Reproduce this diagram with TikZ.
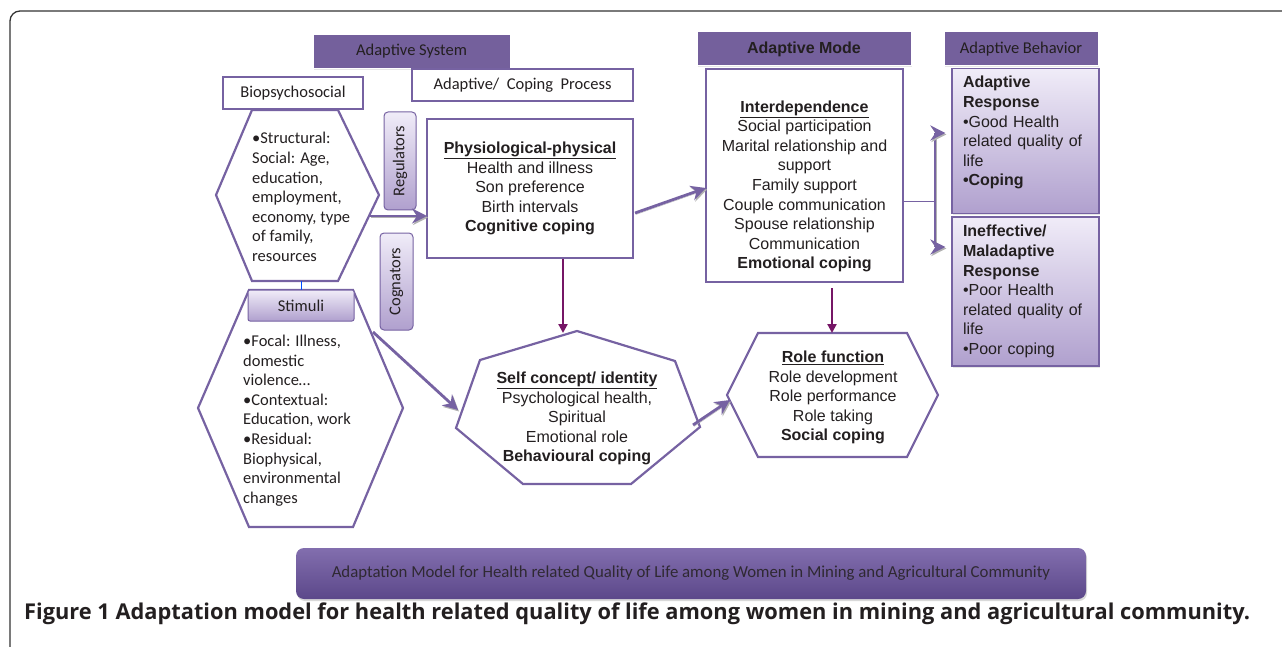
\documentclass[tikz,border=0pt]{standalone}
\usepackage{fontspec}
\setmainfont{Liberation Sans}
\newfontfamily\calfont{Carlito}
\newfontfamily\capfont{Open Sans}
\usetikzlibrary{arrows.meta,shadows}

\definecolor{roy}{RGB}{118,98,162}
\definecolor{hdrfill}{RGB}{116,96,156}
\definecolor{plum}{RGB}{118,22,102}
\definecolor{lavtop}{RGB}{240,236,248}
\definecolor{lavbot}{RGB}{176,160,206}
\definecolor{ink}{RGB}{35,31,32}
\definecolor{bantop}{RGB}{130,110,174}
\definecolor{banbot}{RGB}{92,72,138}

\tikzstyle{hdr}=[fill=hdrfill,draw=white,line width=1pt,minimum height=34pt,inner sep=0pt,text=ink,
  drop shadow={opacity=0.2,shadow xshift=1pt,shadow yshift=-1.5pt}]
\tikzstyle{wbox}=[draw=roy,line width=2.2pt,fill=white,inner sep=0pt,text=ink,align=center,
  font=\fontsize{16}{19.6}\selectfont]
\tikzstyle{lav}=[draw=roy,line width=1pt,top color=lavtop,bottom color=lavbot,rounded corners=4pt,
  inner sep=0pt,text=ink,font=\calfont\fontsize{16.5}{19.6}\selectfont]
\tikzstyle{resp}=[draw=roy,line width=1.2pt,top color=lavtop,bottom color=lavbot,inner xsep=11pt,
  inner ysep=0pt,text width=125pt,align=left,text=ink,font=\fontsize{16}{19.6}\selectfont,
  drop shadow={opacity=0.2,shadow xshift=1pt,shadow yshift=-1.5pt}]
\tikzstyle{poly}=[draw=roy,line width=2.2pt]
\tikzstyle{txt}=[inner sep=0pt,text=ink,align=center,font=\fontsize{16}{19.6}\selectfont]
\tikzstyle{caltxt}=[inner sep=0pt,text=ink,align=left,font=\calfont\fontsize{16.5}{19.6}\selectfont]
\tikzstyle{flowarrow}=[draw=roy,line width=2.8pt,-{Stealth[length=15pt,width=15pt,inset=5pt]},
  preaction={draw=black!30,transform canvas={xshift=1pt,yshift=-1.5pt}}]
\tikzstyle{downarrow}=[draw=plum,line width=2.2pt,-{Triangle[length=9pt,width=9pt]}]

\begin{document}
\begin{tikzpicture}[x=1pt,y=-1pt]
\useasboundingbox (0,0) rectangle (1282,647);
\draw[black!80,line width=1.3pt,rounded corners=10pt] (10,648) -- (10,11) -- (1283,11);

% shapes
\draw[poly] (252,110) -- (338,110) -- (379,195) -- (338,281) -- (252,281) -- (216,195) -- cycle;
\draw[poly] (249,290) -- (353,290) -- (403,408) -- (353,527) -- (249,527) -- (198,408) -- cycle;
\draw[poly] (577,331) -- (675,361) -- (700,427) -- (631,484) -- (523,484) -- (456,428) -- (480,360) -- cycle;
\draw[poly] (758,333) -- (907,333) -- (938,395) -- (907,457) -- (758,457) -- (727,395) -- cycle;

% headers and boxes
\node[hdr,minimum width=197pt,font=\calfont\fontsize{16.5}{19}\selectfont] (sys) at (411.5,51.5) {Adaptive System};
\node[wbox,minimum width=221pt,minimum height=32pt,font=\calfont\fontsize{16.5}{19}\selectfont] (proc) at (522.5,85) {Adaptive/\ \ Coping\ \ Process};
\node[wbox,minimum width=140pt,minimum height=32pt,font=\calfont\fontsize{16.5}{19}\selectfont] (bio) at (293,93) {Biopsychosocial};
\node[hdr,minimum width=214pt,font=\bfseries\fontsize{16}{19}\selectfont] (mode) at (804,49) {Adaptive Mode};
\node[hdr,minimum width=154pt,font=\calfont\fontsize{16.5}{19}\selectfont] (behav) at (1021,49) {Adaptive Behavior};

\node[wbox,minimum width=206pt,minimum height=139pt] (physio) at (530,188.5)
  {\textbf{\underline{Physiological-physical}}\\Health and illness\\Son preference\\Birth intervals\\\textbf{Cognitive coping}};
\node[wbox,minimum width=197pt,minimum height=213pt] (interd) at (804.5,175.5)
  {\strut\\\textbf{\underline{Interdependence}}\\Social participation\\Marital relationship and\\support\\Family support\\Couple communication\\Spouse relationship\\Communication\\\textbf{Emotional coping}};
\node[resp,minimum height=145pt] (good) at (1025.5,141)
  {\textbf{Adaptive}\\\textbf{Response}\\•Good Health\\related quality of\\life\\\textbf{•Coping}\\\mbox{}};
\node[resp,minimum height=149pt] (fail) at (1025.5,291.5)
  {\textbf{Ineffective/}\\\textbf{Maladaptive}\\\textbf{Response}\\•Poor Health\\related quality of\\life\\•Poor coping};

\node[lav,rotate=90,minimum width=98pt,minimum height=32pt] (reg) at (400,161) {Regulators};
\node[lav,rotate=90,minimum width=97pt,minimum height=33pt] (cog) at (396.5,281.5) {Cognators};
\node[lav,rounded corners=2pt,minimum width=106pt,minimum height=31pt] (stimbox) at (301,305.5) {Stimuli};

% texts
\node[caltxt,anchor=west] (struct) at (252,197)
  {•Structural:\\Social: Age,\\education,\\employment,\\economy, type\\of family,\\resources};
\node[caltxt,anchor=west] (stim) at (243,420.5)
  {•Focal: Illness,\\domestic\\violence…\\•Contextual:\\Education, work\\•Residual:\\Biophysical,\\environmental\\changes};
\node[txt] (self) at (577,418.5)
  {\textbf{\underline{Self concept/ identity}}\\Psychological health,\\Spiritual\\Emotional role\\\textbf{Behavioural coping}};
\node[txt] (role) at (833,397.5)
  {\textbf{\underline{Role function}}\\Role development\\Role performance\\Role taking\\\textbf{Social coping}};

\node[rounded corners=8pt,top color=bantop,bottom color=banbot,minimum width=790pt,minimum height=51pt,
  text=ink!85!hdrfill,font=\calfont\fontsize{16.8}{18}\selectfont,
  drop shadow={opacity=0.3,shadow xshift=1pt,shadow yshift=-2pt}] (banner) at (691,573.5)
  {Adaptation Model for Health related Quality of Life among Women in Mining and Agricultural Community};
\node[anchor=west,inner sep=0pt,text=ink,font=\capfont\bfseries\fontsize{21.8}{24}\selectfont] (cap) at (24,613.5)
  {Figure 1 Adaptation model for health related quality of life among women in mining and agricultural community.};

% connectors
\coordinate (h1out) at (370,216);
\coordinate (physin) at (427,216);
\coordinate (physout) at (635,213);
\coordinate (interin) at (706,188);
\coordinate (stimout) at (373,332);
\coordinate (selfin) at (458,410);
\coordinate (selfout) at (693,425);
\coordinate (rolein) at (730,400);
\coordinate (h1bot) at (301,281);
\coordinate (selftop) at (563,333);
\coordinate (roletop) at (832,333);
\coordinate (brt) at (935,133);
\coordinate (brb) at (935,247);
\coordinate (brm) at (935,201);
\foreach \source/\dest in {h1out/physin, physout/interin, stimout/selfin, selfout/rolein}{
  \draw[flowarrow] (\source) -- (\dest);
}
\draw[downarrow] (selftop |- physio.south) -- (selftop);
\draw[downarrow,shorten <=5pt] (roletop |- interd.south) -- (roletop);
\draw[blue!70!cyan,line width=0.6pt] (h1bot) -- (stimbox.north);
\draw[roy,line width=0.8pt] (brm -| interd.east) -- (brm);
\draw[flowarrow,-] (brt) -- (brb);
\foreach \source/\dest in {brt/good, brb/fail}{
  \draw[flowarrow,shorten >=6pt] (\source) -- (\dest.west |- \source);
}
\end{tikzpicture}
\end{document}
